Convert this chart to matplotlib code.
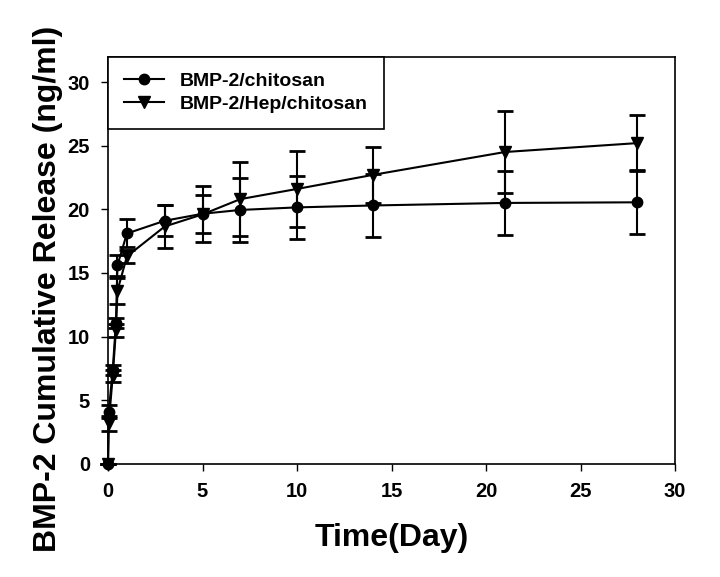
import matplotlib
matplotlib.use("Agg")
import matplotlib.pyplot as plt
from matplotlib.lines import Line2D

plt.rcParams['font.family'] = ['Liberation Sans', 'DejaVu Sans']
plt.rcParams['font.weight'] = 'bold'

# sampling times (days)
days = [0, 0.04, 0.25, 0.42, 0.5, 1, 3, 5, 7, 10, 14, 21, 28]

# BMP-2/chitosan
chi_mean = [0, 4.1, 7.4, 11.1, 15.6, 18.1, 19.1, 19.65, 19.95, 20.15, 20.3, 20.5, 20.55]
chi_err = [0, 0.5, 0.4, 0.4, 0.8, 1.1, 1.2, 1.5, 2.5, 2.5, 2.45, 2.5, 2.5]

# BMP-2/Hep/chitosan
hep_mean = [0, 3.2, 6.9, 10.5, 13.6, 16.3, 18.65, 19.6, 20.8, 21.6, 22.7, 24.5, 25.2]
hep_err = [0, 0.6, 0.5, 0.5, 1.0, 0.5, 1.7, 2.2, 2.9, 3.0, 2.2, 3.2, 2.2]

fig = plt.figure(figsize=(7.2, 5.77), dpi=100)
ax = fig.add_axes([0.15, 0.196, 0.7875, 0.706])

for mean, err, mk, ms in [(chi_mean, chi_err, 'o', 7.5), (hep_mean, hep_err, 'v', 8.5)]:
    lines = ax.errorbar(days, mean, yerr=err, color='black', marker=mk, markersize=ms,
                        linewidth=1.5, elinewidth=1.5, capsize=6, capthick=2)
    for art in lines.lines[0:1] + tuple(lines.lines[1]) + tuple(lines.lines[2]):
        art.set_clip_on(False)

ax.set_xlim(0, 30)
ax.set_ylim(0, 32)
ax.set_xticks(range(0, 31, 5))
ax.set_yticks(range(0, 31, 5))
ax.tick_params(direction='out', length=5, width=1, labelsize=14.5, pad=8)
for lbl in ax.get_xticklabels() + ax.get_yticklabels():
    lbl.set_fontweight('bold')
for s in ax.spines.values():
    s.set_linewidth(1.2)

ax.set_xlabel('Time(Day)', fontsize=23, fontweight='bold', labelpad=16)
ax.set_ylabel('BMP-2 Cumulative Release (ng/ml)', fontsize=23, fontweight='bold')
ax.yaxis.set_label_coords(-0.08, 0.43)

handles = [Line2D([], [], color='black', marker='o', markersize=7.5, linewidth=1.5),
           Line2D([], [], color='black', marker='v', markersize=8.5, linewidth=1.5)]
leg = ax.legend(handles, ['BMP-2/chitosan', 'BMP-2/Hep/chitosan'], loc='upper left',
                bbox_to_anchor=(0, 1), borderaxespad=0, fancybox=False,
                edgecolor='black', framealpha=1, prop={'size': 14, 'weight': 'bold'},
                handlelength=2.1, handletextpad=0.8, borderpad=0.8, labelspacing=0.3)
leg.get_frame().set_linewidth(1.2)

fig.savefig('out.png', dpi=100)
